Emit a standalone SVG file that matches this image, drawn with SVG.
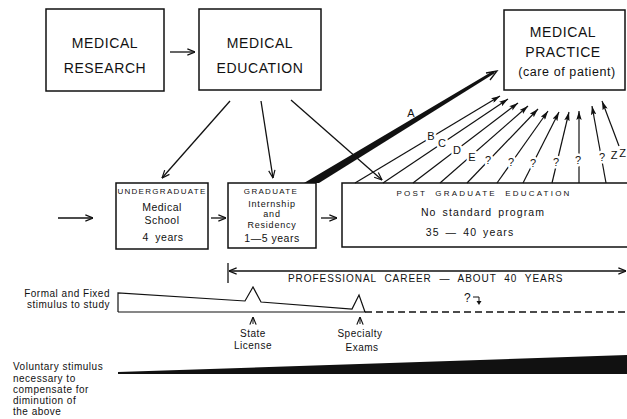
<svg xmlns="http://www.w3.org/2000/svg" width="627" height="419" viewBox="0 0 627 419">
<style>
text{font-family:"Liberation Sans",Arial,sans-serif;fill:#111}
.box{fill:#fff;stroke:#111;stroke-width:1.5}
.big{font-size:14px;letter-spacing:0.6px;text-anchor:middle}
.hdr{font-size:8px;letter-spacing:1.3px;text-anchor:middle}
.mid{font-size:10.5px;letter-spacing:0.5px;text-anchor:middle}
.tight{font-size:9px;letter-spacing:0.8px;text-anchor:middle}
.sm{font-size:10px;letter-spacing:0.5px}
.ln{fill:none;stroke:#111;stroke-width:1.3}
.fan{fill:none;stroke:#111;stroke-width:1.2;marker-end:url(#fa)}
.lbl{font-size:11px;text-anchor:middle;stroke:#fff;stroke-width:5px;paint-order:stroke;stroke-linejoin:round}
</style>
<defs>
<marker id="oa" viewBox="0 0 10 10" refX="9.5" refY="5" markerWidth="9" markerHeight="9" orient="auto-start-reverse" markerUnits="userSpaceOnUse">
<path d="M1,1.5 L9.5,5 L1,8.5" fill="none" stroke="#111" stroke-width="1.3"/>
</marker>
<marker id="fa" viewBox="0 0 10 6" refX="10" refY="3" markerWidth="9" markerHeight="5.4" orient="auto" markerUnits="userSpaceOnUse">
<path d="M0,0 L10,3 L0,6 L2,3 z" fill="#111"/>
</marker>
</defs>

<g id="research">
<rect class="box" x="46" y="9" width="118" height="82"/>
<text class="big" x="105" y="48">MEDICAL</text>
<text class="big" x="105" y="73">RESEARCH</text>
</g>
<g id="education">
<rect class="box" x="199" y="9" width="122" height="81"/>
<text class="big" x="260" y="48">MEDICAL</text>
<text class="big" x="260" y="73">EDUCATION</text>
</g>
<g id="practice">
<rect class="box" x="504" y="10" width="121" height="80"/>
<text class="big" x="563" y="37">MEDICAL</text>
<text class="big" x="563" y="57">PRACTICE</text>
<text class="big" x="567" y="76" style="font-size:12.5px">(care of patient)</text>
</g>
<g id="undergraduate">
<rect class="box" x="116" y="183" width="92" height="66"/>
<text class="hdr" x="162" y="194">UNDERGRADUATE</text>
<text class="mid" x="162" y="211">Medical</text>
<text class="mid" x="162" y="224">School</text>
<text class="mid" x="163" y="241" style="word-spacing:3px">4 years</text>
</g>
<g id="graduate">
<rect class="box" x="228" y="183" width="88" height="65"/>
<text class="hdr" x="271" y="194">GRADUATE</text>
<text class="tight" x="272" y="207">Internship</text>
<text class="tight" x="272" y="217">and</text>
<text class="tight" x="272" y="227.5">Residency</text>
<text class="mid" x="272" y="242">1—5 years</text>
</g>
<g id="postgraduate">
<path class="box" d="M630,183 H342 V247 H630"/>
<text class="hdr" x="484" y="196" style="letter-spacing:2.2px;word-spacing:4px">POST GRADUATE EDUCATION</text>
<text class="mid" x="483" y="216" style="letter-spacing:1.1px;word-spacing:2px">No standard program</text>
<text class="mid" x="470" y="236" style="letter-spacing:1.1px;word-spacing:2px">35 — 40 years</text>
</g>

<g id="connectors">
<line class="ln" x1="170" y1="52" x2="195" y2="52" marker-end="url(#oa)"/>
<line class="ln" x1="58" y1="218" x2="93" y2="218" marker-end="url(#oa)"/>
<line class="ln" x1="211" y1="218" x2="226" y2="218" marker-end="url(#oa)"/>
<line class="ln" x1="321" y1="218" x2="337" y2="218" marker-end="url(#oa)"/>
<line class="ln" x1="230" y1="101" x2="162" y2="178" marker-end="url(#oa)"/>
<line class="ln" x1="261" y1="101" x2="273" y2="178" marker-end="url(#oa)"/>
<line class="ln" x1="291" y1="100" x2="382" y2="180" marker-end="url(#oa)"/>
<polygon points="304,183 319,183 495,73 493,71" fill="#111"/>
<path class="ln" d="M486,73 L497,71 L490,80"/>
<line class="fan" x1="355" y1="183" x2="500" y2="96"/>
<line class="fan" x1="383" y1="183" x2="508" y2="99"/>
<line class="fan" x1="413" y1="183" x2="518" y2="103"/>
<line class="fan" x1="440" y1="183" x2="528" y2="106"/>
<line class="fan" x1="467" y1="183" x2="538" y2="109"/>
<line class="fan" x1="497" y1="183" x2="548" y2="111"/>
<line class="fan" x1="523" y1="183" x2="559" y2="112"/>
<line class="fan" x1="552" y1="183" x2="569" y2="112"/>
<line class="fan" x1="579" y1="183" x2="579" y2="111"/>
<line class="fan" x1="606" y1="183" x2="592" y2="106"/>
<line class="fan" x1="619" y1="146" x2="602" y2="101"/>
</g>
<g id="fan-labels">
<text class="lbl" x="411" y="117" style="stroke:none">A</text>
<text class="lbl" x="431" y="140">B</text>
<text class="lbl" x="442" y="147">C</text>
<text class="lbl" x="457" y="154">D</text>
<text class="lbl" x="472" y="161">E</text>
<text class="lbl" x="488" y="164">?</text>
<text class="lbl" x="511" y="166">?</text>
<text class="lbl" x="533" y="167">?</text>
<text class="lbl" x="556" y="166">?</text>
<text class="lbl" x="578" y="164">?</text>
<text class="lbl" x="602" y="161">?</text>
<text class="lbl" x="614" y="159" style="stroke:none">Z</text>
<text class="lbl" x="622.5" y="157" style="stroke:none">Z</text>
</g>

<g id="career">
<line class="ln" x1="228" y1="263" x2="228" y2="283"/>
<line class="ln" x1="229" y1="271" x2="626" y2="271" marker-start="url(#oa)" marker-end="url(#oa)"/>
<text class="sm" x="288" y="282" textLength="275" lengthAdjust="spacing" style="word-spacing:4px">PROFESSIONAL CAREER — ABOUT 40 YEARS</text>
</g>

<g id="formal-stimulus">
<text class="sm" x="110" y="297" text-anchor="end">Formal and Fixed</text>
<text class="sm" x="110" y="308" text-anchor="end">stimulus to study</text>
<path class="ln" d="M118,312 V293 L245,301 L253,287 L261,302 L352,309 L359,295 L365,312 H118" style="stroke-width:1.2"/>
<line class="ln" x1="365" y1="312" x2="627" y2="312" stroke-dasharray="7,4"/>
<text class="sm" x="464" y="302" style="font-size:12px">?</text>
<path class="ln" d="M473,297 H479 V303" style="stroke-width:1"/>
<path d="M476.5,301 L479,305 L481.5,301 z" fill="#111"/>
</g>
<g id="state-license">
<line class="ln" x1="253" y1="324" x2="253" y2="317" marker-end="url(#oa)" style="stroke-width:1"/>
<text class="sm" x="253" y="337" text-anchor="middle">State</text>
<text class="sm" x="253" y="349" text-anchor="middle">License</text>
</g>
<g id="specialty-exams">
<line class="ln" x1="360" y1="324" x2="360" y2="317" marker-end="url(#oa)" style="stroke-width:1"/>
<text class="sm" x="360" y="337" text-anchor="middle">Specialty</text>
<text class="sm" x="362" y="351" text-anchor="middle">Exams</text>
</g>

<g id="voluntary-stimulus">
<text class="sm" x="13" y="370">Voluntary stimulus</text>
<text class="sm" x="13" y="382">necessary to</text>
<text class="sm" x="13" y="393">compensate for</text>
<text class="sm" x="13" y="404">diminution of</text>
<text class="sm" x="13" y="415">the above</text>
<polygon points="118,374 118,372 627,355 627,374" fill="#111"/>
</g>
</svg>
